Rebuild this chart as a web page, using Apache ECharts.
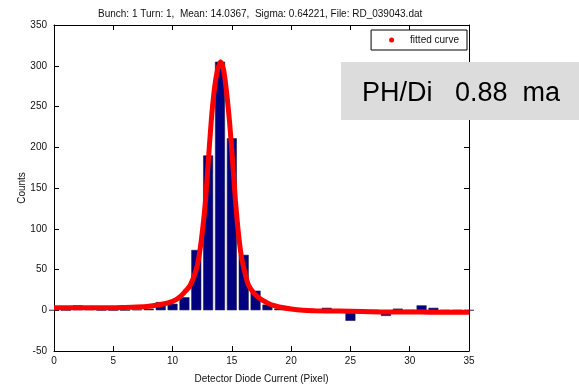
<!DOCTYPE html>
<html>
<head>
<meta charset="utf-8">
<script src="https://cdn.jsdelivr.net/npm/echarts@6/dist/echarts.min.js"></script>
<style>
html,body{margin:0;padding:0;background:#fff;}
#chart{width:579px;height:386px;}
</style>
</head>
<body>
<div id="chart"></div>
<script>
// ---- data ----
const titleText = 'Bunch: 1 Turn: 1,  Mean: 14.0367,  Sigma: 0.64221, File: RD_039043.dat';
const xAxisTitle = 'Detector Diode Current (Pixel)';
const yAxisTitle = 'Counts';
const legendName = 'fitted curve';
const noteText = 'PH/Di   0.88  ma';

// histogram: pixel index and counts
const barPixels = [0,1,2,3,4,5,6,7,8,9,10,11,12,13,14,15,16,17,18,19,20,21,22,23,24,25,26,27,28,29,30,31,32,33,34,35];
const barCounts = [0,0,6,5,0,0,0,1,2,10,8,16,74,190,305,211,68,24,7,2,0,0,0,3,0,-13,0,0,-7,2,0,6,3,0,0,0];

// fitted curve samples
const curveX = [0,2,4,6,7,8,9,10,10.5,11,11.5,12,12.25,12.5,12.75,13,13.25,13.5,13.75,14.04,14.3,14.55,14.8,15.05,15.3,15.55,15.8,16.1,16.4,16.8,17.2,17.6,18,18.5,19,20,21,22,24,26,28,30,32,35];
const curveY = [3,3,3,3.5,4,5,7,11,15,22,31,50,68,95,130,180,230,268,292,305,295,268,232,185,135,95,66,46,31,22,16,12,9,6,4,1.5,0,-0.5,-1,-1.5,-2,-2,-2.5,-2.5];

// axis ticks
const xMin = 0, xMax = 35, xStep = 5;
const yMin = -50, yMax = 350, yStep = 50;

const FONT = '"Liberation Sans", Arial, sans-serif';

const chart = echarts.init(document.getElementById('chart'), null, {renderer: 'canvas'});

const axisLineStyle = {color: '#000', width: 1};
const tickStyle = {show: true, inside: true, length: 5, lineStyle: {color: '#000', width: 1}};

const option = {
  animation: false,
  backgroundColor: '#fff',
  title: {
    text: titleText,
    left: 93, top: 4,
    textStyle: {fontFamily: FONT, fontSize: 10, fontWeight: 'normal', color: '#111'}
  },
  grid: {left: 54, right: 110, top: 25, bottom: 35, containLabel: false, outerBoundsMode: 'none'},
  legend: {
    data: [{name: legendName, icon: 'circle'}],
    right: 112, top: 30,
    itemWidth: 5, itemHeight: 5,
    padding: [5, 8, 5, 18],
    borderColor: '#000', borderWidth: 1, borderRadius: 0,
    backgroundColor: '#fff',
    textStyle: {fontFamily: FONT, fontSize: 10, color: '#111', padding: [0, 0, 0, 11]}
  },
  xAxis: [{
    type: 'value', min: xMin, max: xMax, interval: xStep,
    position: 'bottom',
    name: xAxisTitle, nameLocation: 'middle', nameGap: 23, nameMoveOverlap: false,
    nameTextStyle: {fontFamily: FONT, fontSize: 10, color: '#111'},
    axisLine: {show: true, onZero: false, lineStyle: axisLineStyle},
    axisTick: tickStyle,
    axisLabel: {fontFamily: FONT, fontSize: 10, color: '#111', margin: 5},
    splitLine: {show: false}
  }, {
    type: 'value', min: xMin, max: xMax, interval: xStep,
    position: 'top',
    axisLine: {show: true, onZero: false, lineStyle: axisLineStyle},
    axisTick: tickStyle,
    axisLabel: {show: false},
    splitLine: {show: false}
  }],
  yAxis: [{
    type: 'value', min: yMin, max: yMax, interval: yStep,
    position: 'left',
    name: yAxisTitle, nameLocation: 'middle', nameGap: 27, nameRotate: 90, nameMoveOverlap: false,
    nameTextStyle: {fontFamily: FONT, fontSize: 10, color: '#111'},
    axisLine: {show: true, onZero: false, lineStyle: axisLineStyle},
    axisTick: tickStyle,
    axisLabel: {fontFamily: FONT, fontSize: 10, color: '#111', margin: 7},
    splitLine: {show: false}
  }, {
    type: 'value', min: yMin, max: yMax, interval: yStep,
    position: 'right',
    axisLine: {show: true, onZero: false, lineStyle: axisLineStyle},
    axisTick: tickStyle,
    axisLabel: {show: false},
    splitLine: {show: false}
  }],
  series: [{
    name: 'counts',
    type: 'bar',
    xAxisIndex: 0, yAxisIndex: 0,
    barWidth: 10,
    data: barPixels.map((p, i) => [p, barCounts[i]]),
    itemStyle: {color: '#00007f', borderColor: '#222244', borderWidth: 0.6},
    z: 2
  }, {
    name: legendName,
    type: 'line',
    xAxisIndex: 0, yAxisIndex: 0,
    smooth: 0.3,
    showSymbol: false,
    symbol: 'circle',
    data: curveX.map((x, i) => [x, curveY[i]]),
    lineStyle: {color: '#ff0000', width: 5},
    itemStyle: {color: '#ff0000'},
    z: 3
  }],
  graphic: [{
    type: 'rect',
    shape: {x: 341, y: 62, width: 238, height: 58},
    style: {fill: '#dcdcdc'},
    z: 100
  }, {
    type: 'text',
    x: 362, y: 94,
    style: {text: noteText, fontFamily: FONT, fontSize: 27, fill: '#000', verticalAlign: 'middle', align: 'left'},
    z: 101
  }]
};
chart.setOption(option);
</script>
</body>
</html>
